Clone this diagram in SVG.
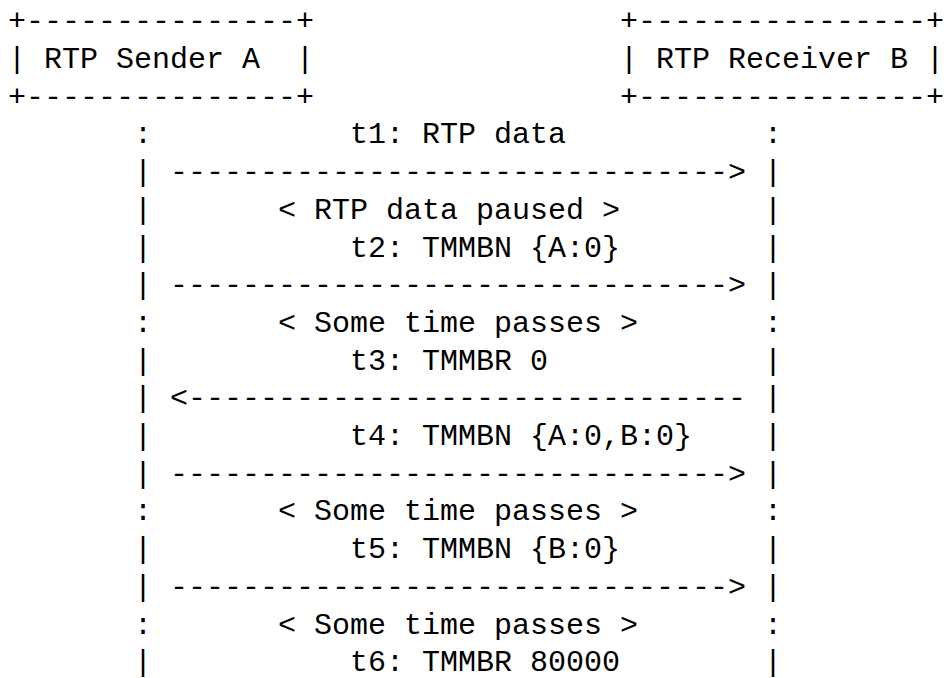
<svg xmlns="http://www.w3.org/2000/svg" width="944" height="678" viewBox="0 0 944 678">
<style>
text{font-family:"Liberation Mono","DejaVu Sans Mono",monospace;font-size:30px;fill:#000;white-space:pre}
</style>
<rect width="944" height="678" fill="#fff"/>
<g id="sender">
<text x="8" y="30.3">+---------------+</text>
<text x="8" y="68">| RTP Sender A  |</text>
<text x="8" y="105.7">+---------------+</text>
</g>
<g id="receiver">
<text x="620" y="30.3">+----------------+</text>
<text x="620" y="68">| RTP Receiver B |</text>
<text x="620" y="105.7">+----------------+</text>
</g>
<g id="lifeline-a">
<text x="134" y="143.4">:</text>
<text x="134" y="181.1">|</text>
<text x="134" y="218.8">|</text>
<text x="134" y="256.5">|</text>
<text x="134" y="294.2">|</text>
<text x="134" y="331.9">:</text>
<text x="134" y="369.6">|</text>
<text x="134" y="407.3">|</text>
<text x="134" y="445">|</text>
<text x="134" y="482.7">|</text>
<text x="134" y="520.4">:</text>
<text x="134" y="558.1">|</text>
<text x="134" y="595.8">|</text>
<text x="134" y="633.5">:</text>
<text x="134" y="671.2">|</text>
</g>
<g id="lifeline-b">
<text x="764" y="143.4">:</text>
<text x="764" y="181.1">|</text>
<text x="764" y="218.8">|</text>
<text x="764" y="256.5">|</text>
<text x="764" y="294.2">|</text>
<text x="764" y="331.9">:</text>
<text x="764" y="369.6">|</text>
<text x="764" y="407.3">|</text>
<text x="764" y="445">|</text>
<text x="764" y="482.7">|</text>
<text x="764" y="520.4">:</text>
<text x="764" y="558.1">|</text>
<text x="764" y="595.8">|</text>
<text x="764" y="633.5">:</text>
<text x="764" y="671.2">|</text>
</g>
<g id="connectors">
<text x="170" y="181.1">-------------------------------&gt;</text>
<text x="170" y="294.2">-------------------------------&gt;</text>
<text x="170" y="407.3">&lt;-------------------------------</text>
<text x="170" y="482.7">-------------------------------&gt;</text>
<text x="170" y="595.8">-------------------------------&gt;</text>
</g>
<g id="labels">
<text x="350" y="143.4">t1: RTP data</text>
<text x="278" y="218.8">&lt; RTP data paused &gt;</text>
<text x="350" y="256.5">t2: TMMBN {A:0}</text>
<text x="278" y="331.9">&lt; Some time passes &gt;</text>
<text x="350" y="369.6">t3: TMMBR 0</text>
<text x="350" y="445">t4: TMMBN {A:0,B:0}</text>
<text x="278" y="520.4">&lt; Some time passes &gt;</text>
<text x="350" y="558.1">t5: TMMBN {B:0}</text>
<text x="278" y="633.5">&lt; Some time passes &gt;</text>
<text x="350" y="671.2">t6: TMMBR 80000</text>
</g>
</svg>
